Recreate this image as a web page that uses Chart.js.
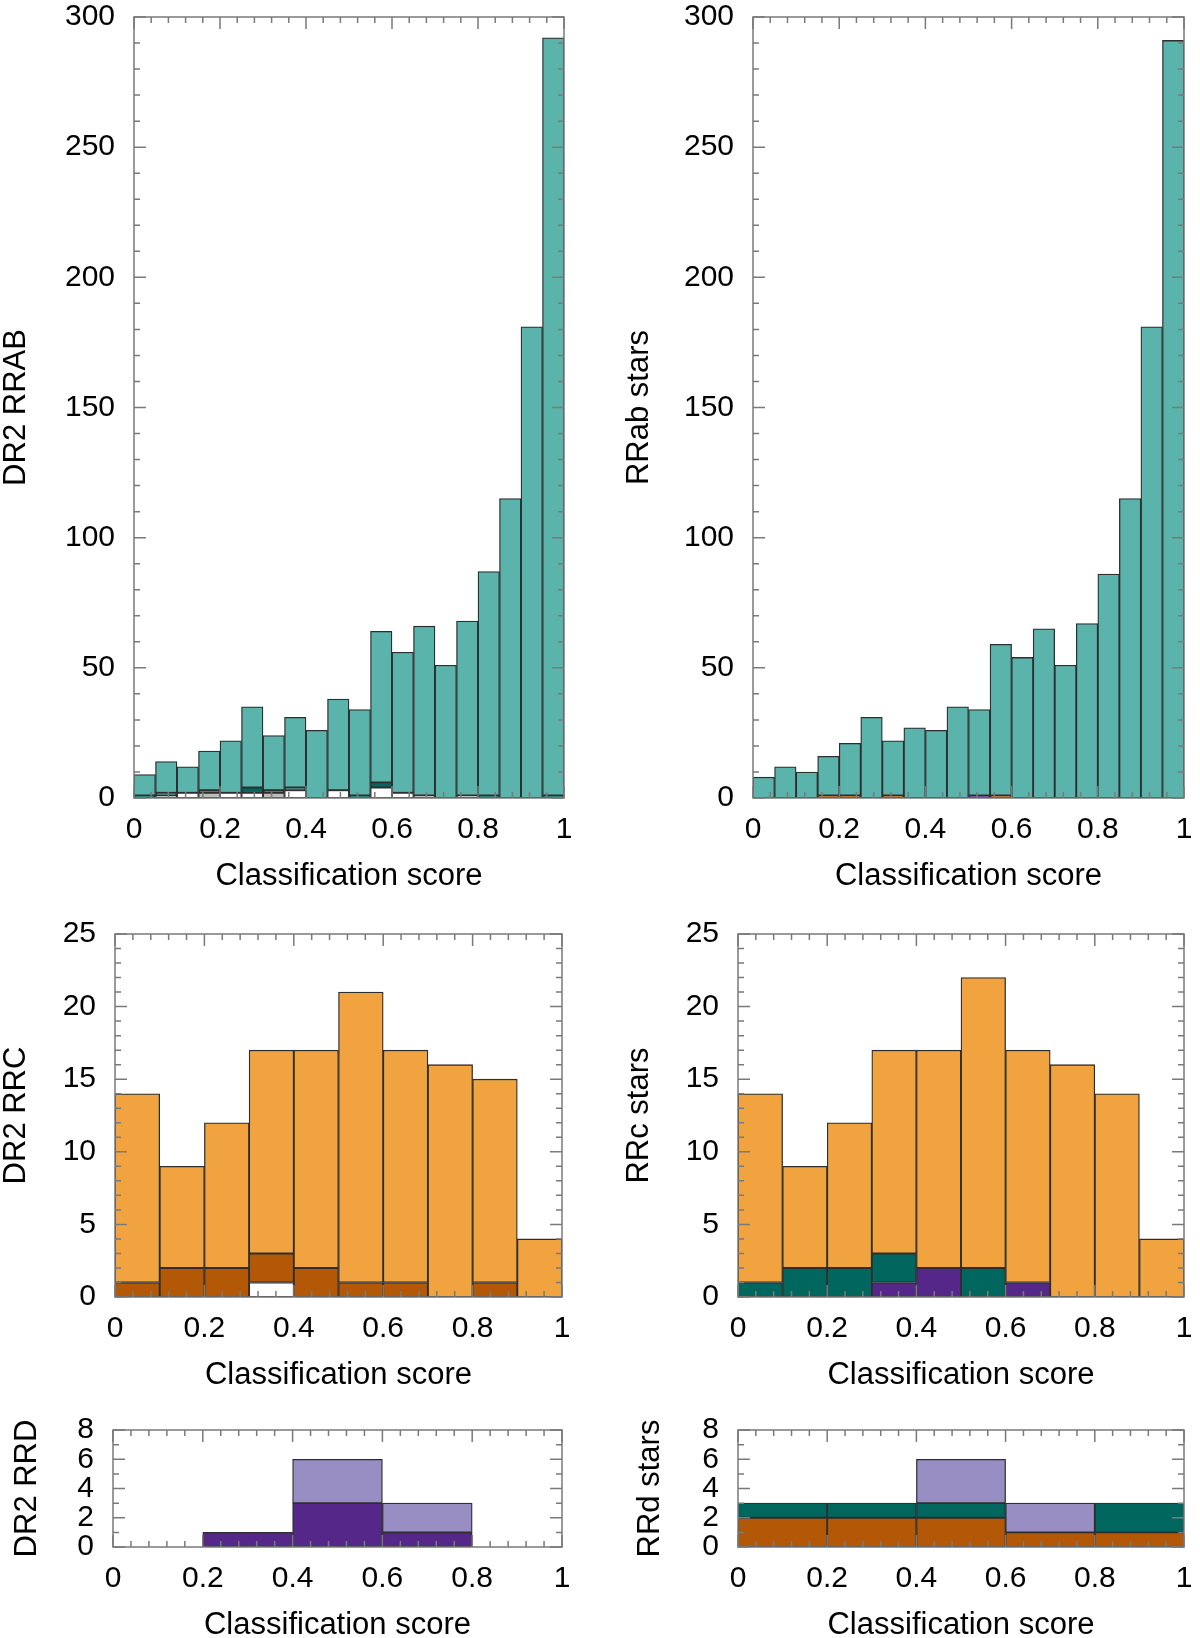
<!DOCTYPE html>
<html>
<head>
<meta charset="utf-8">
<script src="https://cdn.jsdelivr.net/npm/chart.js@4.4.1/dist/chart.umd.min.js"></script>
<style>
html, body { margin: 0; padding: 0; background: #fff; }
body { width: 1200px; height: 1638px; overflow: hidden; position: relative; }
canvas { position: absolute; }
</style>
</head>
<body>
<canvas id="rrabDr2"></canvas>
<canvas id="rrabStars"></canvas>
<canvas id="rrcDr2"></canvas>
<canvas id="rrcStars"></canvas>
<canvas id="rrdDr2"></canvas>
<canvas id="rrdStars"></canvas>
<script>
// DR2 RRAB, 20 bins of classification score (stacked bottom to top)
const rrabDr2White = [0, 0, 2, 0, 2, 2, 0, 3, 0, 3, 0, 4, 2, 0, 0, 0, 0, 0, 0, 0];
const rrabDr2Gray = [0, 1, 0, 2, 0, 0, 2, 0, 0, 0, 0, 0, 0, 1, 0, 1, 0, 0, 0, 0];
const rrabDr2Dark = [1, 1, 0, 1, 0, 2, 1, 1, 0, 0, 1, 2, 0, 0, 0, 0, 1, 0, 0, 1];
const rrabDr2Main = [8, 12, 10, 15, 20, 31, 21, 27, 26, 35, 33, 58, 54, 65, 51, 67, 86, 115, 181, 291];

// RRab stars
const rrabStarsRrc = [0, 0, 0, 1, 1, 0, 1, 0, 0, 0, 0, 1, 0, 0, 0, 0, 0, 0, 0, 0];
const rrabStarsRrd = [0, 0, 0, 0, 0, 0, 0, 0, 0, 0, 1, 0, 0, 0, 0, 0, 0, 0, 0, 0];
const rrabStarsMain = [8, 12, 10, 15, 20, 31, 21, 27, 26, 35, 33, 58, 54, 65, 51, 67, 86, 115, 181, 291];

// DR2 RRC, 10 bins
const rrcDr2White = [0, 0, 0, 1, 0, 0, 0, 0, 0, 0];
const rrcDr2Dark = [1, 2, 2, 2, 2, 1, 1, 0, 1, 0];
const rrcDr2Main = [13, 7, 10, 14, 15, 20, 16, 16, 14, 4];

// RRc stars
const rrcStarsRrd = [0, 0, 0, 1, 2, 0, 1, 0, 0, 0];
const rrcStarsRrab = [1, 2, 2, 2, 0, 2, 0, 0, 0, 0];
const rrcStarsMain = [13, 7, 10, 14, 15, 20, 16, 16, 14, 4];

// DR2 RRD, 5 bins
const rrdDr2Dark = [0, 1, 3, 1, 0];
const rrdDr2Main = [0, 0, 3, 2, 0];

// RRd stars
const rrdStarsRrc = [2, 2, 2, 1, 1];
const rrdStarsRrab = [1, 1, 1, 0, 2];
const rrdStarsMain = [0, 0, 3, 2, 0];

const teal = '#5ab4ac', darkTeal = '#01665e';
const orange = '#f1a340', brown = '#b35806';
const lightPurple = '#998ec3', darkPurple = '#542788';
const gray = '#bdbdbd', white = '#ffffff';

Chart.defaults.font.family = '"Liberation Sans", Arial, sans-serif';
Chart.defaults.font.size = 30;
Chart.defaults.color = '#000';

const X_AXIS_H = 97;
const PAD_TOP = 40, PAD_RIGHT = 30;

// inward ticks on all four sides plus the frame
const frameTicks = {
    id: 'frameTicks',
    afterDatasetsDraw(chart, args, opts) {
        const ctx = chart.ctx;
        const a = chart.chartArea;
        const x = chart.scales.x, y = chart.scales.y;
        ctx.save();
        ctx.strokeStyle = '#7a7a7a';
        ctx.lineWidth = 1.5;
        ctx.beginPath();
        const nx = Math.round(1 / opts.xMinor);
        const kx = Math.round(opts.xMajor / opts.xMinor);
        for (let i = 0; i <= nx; i++) {
            const px = x.getPixelForValue(i * opts.xMinor);
            const len = i % kx === 0 ? 12 : 6;
            ctx.moveTo(px, a.bottom); ctx.lineTo(px, a.bottom - len);
            ctx.moveTo(px, a.top); ctx.lineTo(px, a.top + len);
        }
        const ny = Math.round(opts.yMax / opts.yMinor);
        const ky = Math.round(opts.yMajor / opts.yMinor);
        for (let i = 0; i <= ny; i++) {
            const py = y.getPixelForValue(i * opts.yMinor);
            const len = i % ky === 0 ? 12 : 6;
            ctx.moveTo(a.left, py); ctx.lineTo(a.left + len, py);
            ctx.moveTo(a.right, py); ctx.lineTo(a.right - len, py);
        }
        ctx.stroke();
        ctx.strokeRect(a.left, a.top, a.right - a.left, a.bottom - a.top);
        ctx.restore();
    }
};

function makePanel(canvasId, titleX, plot, yMax, yMajor, yMinor, yTitle, series) {
    const canvas = document.getElementById(canvasId);
    const canvasLeft = titleX - 18;
    const w = plot.r + PAD_RIGHT - canvasLeft;
    const h = plot.b - plot.t + PAD_TOP + X_AXIS_H;
    canvas.width = w;
    canvas.height = h;
    canvas.style.left = canvasLeft + 'px';
    canvas.style.top = (plot.t - PAD_TOP) + 'px';

    const n = series[0].data.length;
    const datasets = series.map(s => ({
        data: s.data.map((v, i) => ({ x: (i + 0.5) / n, y: v })),
        backgroundColor: s.color,
        borderColor: '#2e2e2e',
        borderWidth: 1.3,
        borderSkipped: false,
        barPercentage: 1,
        categoryPercentage: 1
    }));

    return new Chart(canvas, {
        type: 'bar',
        data: { datasets: datasets },
        options: {
            responsive: false,
            animation: false,
            layout: { padding: { top: PAD_TOP, right: PAD_RIGHT, left: 0, bottom: 0 } },
            plugins: {
                legend: { display: false },
                tooltip: { enabled: false },
                frameTicks: { xMajor: 0.2, xMinor: 0.04, yMax: yMax, yMajor: yMajor, yMinor: yMinor }
            },
            scales: {
                x: {
                    type: 'linear', min: 0, max: 1, offset: false, stacked: true,
                    grid: { display: false, drawTicks: false },
                    border: { display: false },
                    ticks: {
                        stepSize: 0.2, padding: 14, maxRotation: 0, autoSkip: false,
                        callback: v => String(+v.toFixed(1))
                    },
                    title: { display: true, text: 'Classification score', padding: 0, font: { size: 31 } },
                    afterFit: s => { s.height = X_AXIS_H; }
                },
                y: {
                    min: 0, max: yMax, stacked: true,
                    grid: { display: false, drawTicks: false },
                    border: { display: false },
                    ticks: { stepSize: yMajor, padding: 19, autoSkip: false },
                    title: { display: true, text: yTitle, padding: 0, font: { size: 31 } },
                    afterFit: s => { s.width = plot.l - canvasLeft; }
                }
            }
        },
        plugins: [frameTicks]
    });
}

makePanel('rrabDr2', 16, { l: 134, t: 17, r: 564, b: 798 }, 300, 50, 10, 'DR2 RRAB', [
    { data: rrabDr2White, color: white },
    { data: rrabDr2Gray, color: gray },
    { data: rrabDr2Dark, color: darkTeal },
    { data: rrabDr2Main, color: teal }
]);

makePanel('rrabStars', 639, { l: 753, t: 17, r: 1184, b: 798 }, 300, 50, 10, 'RRab stars', [
    { data: rrabStarsRrc, color: brown },
    { data: rrabStarsRrd, color: darkPurple },
    { data: rrabStarsMain, color: teal }
]);

makePanel('rrcDr2', 16, { l: 115, t: 934, r: 562, b: 1297 }, 25, 5, 1, 'DR2 RRC', [
    { data: rrcDr2White, color: white },
    { data: rrcDr2Dark, color: brown },
    { data: rrcDr2Main, color: orange }
]);

makePanel('rrcStars', 639, { l: 738, t: 934, r: 1184, b: 1297 }, 25, 5, 1, 'RRc stars', [
    { data: rrcStarsRrd, color: darkPurple },
    { data: rrcStarsRrab, color: darkTeal },
    { data: rrcStarsMain, color: orange }
]);

makePanel('rrdDr2', 27, { l: 113, t: 1430, r: 562, b: 1547 }, 8, 2, 1, 'DR2 RRD', [
    { data: rrdDr2Dark, color: darkPurple },
    { data: rrdDr2Main, color: lightPurple }
]);

makePanel('rrdStars', 650, { l: 738, t: 1430, r: 1184, b: 1547 }, 8, 2, 1, 'RRd stars', [
    { data: rrdStarsRrc, color: brown },
    { data: rrdStarsRrab, color: darkTeal },
    { data: rrdStarsMain, color: lightPurple }
]);
</script>
</body>
</html>
